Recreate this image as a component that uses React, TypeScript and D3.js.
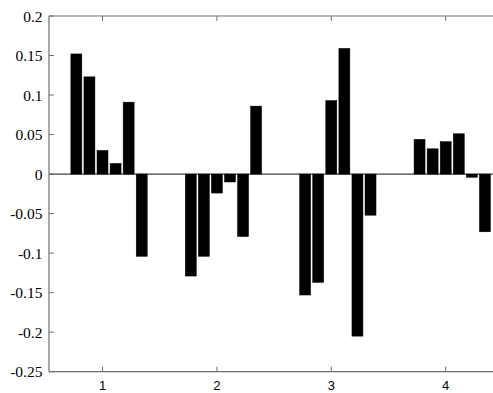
import React from 'react';
import * as d3 from 'd3';

// values (7 bars per group, the first one is zero)
const groups = [1, 2, 3, 4];
const group1 = [0, 0.152, 0.123, 0.03, 0.0135, 0.091, -0.104];
const group2 = [0, -0.129, -0.104, -0.024, -0.01, -0.079, 0.086];
const group3 = [0, -0.153, -0.137, 0.093, 0.159, -0.205, -0.052];
const group4 = [0, 0.044, 0.032, 0.041, 0.051, -0.004, -0.073];
const yTicks = [0.2, 0.15, 0.1, 0.05, 0, -0.05, -0.1, -0.15, -0.2, -0.25];
const xTickLabels = ['1', '2', '3', '4'];

const values = [group1, group2, group3, group4];

const width = 493;
const height = 393;
const margin = { top: 16, left: 49, bottom: 21 };

const App: React.FC = () => {
  const plotBottom = height - margin.bottom - 0.3;

  const xScale = d3.scaleLinear().domain([1, 4]).range([102.5, 445.7]);
  const xRight = xScale(4.5);

  const yScale = d3.scaleLinear().domain([-0.25, 0.2]).range([plotBottom, margin.top]);

  // bar offsets inside a group (MATLAB-style 0.8 group width)
  const inner = d3
    .scaleBand<number>()
    .domain(d3.range(7))
    .range([-0.4, 0.4])
    .paddingInner(0.16)
    .paddingOuter(0.08);
  const barW = xScale(inner.bandwidth()) - xScale(0);

  const axisColor = '#6e6e6e';
  const tickLen = 5;
  const serif = '"Liberation Serif", "DejaVu Serif", serif';
  const sans = '"Liberation Sans", Arial, sans-serif';

  return (
    <svg
      width={width}
      height={height}
      style={{ position: 'fixed', left: 0, top: 0, background: '#fff' }}
    >
      <rect x={0} y={0} width={width} height={height} fill="#fff" />

      {/* zero line */}
      <line
        x1={margin.left}
        x2={xRight}
        y1={yScale(0)}
        y2={yScale(0)}
        stroke="#111"
        strokeWidth={1}
      />

      {/* bars */}
      {values.map((vals, gi) =>
        vals.map((v, i) => {
          if (v === 0) return null;
          const xs = xScale(groups[gi] + (inner(i) as number));
          const y1 = yScale(Math.max(v, 0));
          const y2 = yScale(Math.min(v, 0));
          return (
            <rect
              key={`${gi}-${i}`}
              x={xs}
              y={y1}
              width={barW}
              height={Math.max(y2 - y1, 0.5)}
              fill="#000"
              stroke="#000"
              strokeWidth={0.5}
            />
          );
        })
      )}

      {/* box */}
      <line x1={margin.left} x2={margin.left} y1={margin.top} y2={plotBottom} stroke={axisColor} strokeWidth={1.2} />
      <line x1={margin.left} x2={xRight} y1={margin.top} y2={margin.top} stroke={axisColor} strokeWidth={1.2} />
      <line x1={margin.left} x2={xRight} y1={plotBottom} y2={plotBottom} stroke={axisColor} strokeWidth={1.2} />

      {/* y ticks */}
      {yTicks.map((t) => (
        <g key={`y${t}`}>
          <line
            x1={margin.left}
            x2={margin.left + tickLen}
            y1={yScale(t)}
            y2={yScale(t)}
            stroke={axisColor}
            strokeWidth={1}
          />
          <text
            x={42.5}
            y={yScale(t)}
            dy="0.36em"
            textAnchor="end"
            fontFamily={serif}
            fontSize={15.5}
            fill="#000"
          >
            {String(+t.toFixed(2))}
          </text>
        </g>
      ))}

      {/* x ticks */}
      {groups.map((g, i) => (
        <g key={`x${g}`}>
          <line x1={xScale(g)} x2={xScale(g)} y1={plotBottom} y2={plotBottom - tickLen} stroke={axisColor} strokeWidth={1} />
          <line x1={xScale(g)} x2={xScale(g)} y1={margin.top} y2={margin.top + tickLen} stroke={axisColor} strokeWidth={1} />
          <text
            x={xScale(g)}
            y={390}
            textAnchor="middle"
            fontFamily={sans}
            fontSize={13}
            fill="#000"
          >
            {xTickLabels[i]}
          </text>
        </g>
      ))}
    </svg>
  );
};

export default App;
